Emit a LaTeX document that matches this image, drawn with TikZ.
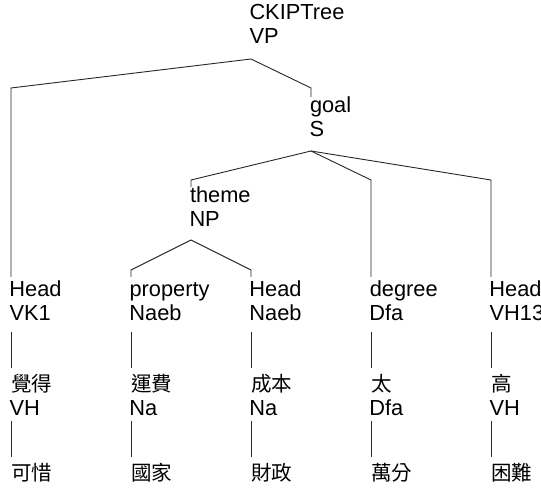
\documentclass[tikz,border=0pt]{standalone}
\usepackage{fontspec}
\setmainfont{Liberation Sans}
\newfontfamily\cjk{Noto Sans CJK TC}
\begin{document}
\begin{tikzpicture}[x=1pt,y=-1pt,
  lbl/.style={anchor=base west,inner sep=0pt,outer sep=0pt,font=\fontsize{21.8}{24}\selectfont},
  han/.style={anchor=base west,inner sep=0pt,outer sep=0pt,font=\cjk\fontsize{20.5}{24}\selectfont},
  edge/.style={draw=black!85,line width=0.9pt}]
\useasboundingbox (0,0) rectangle (541,489);
% ---- text nodes ----
\node[lbl] (rootA) at (249.5,20) {CKIPTree};
\node[lbl] (rootB) at (249.5,44) {VP};
\node[lbl] (goalA) at (310,113) {goal};
\node[lbl] (goalB) at (309.5,137) {S};
\node[lbl] (themeA) at (190,203) {theme};
\node[lbl] (themeB) at (189.5,227) {NP};
% leaf column 1
\node[lbl] (h1A) at (9.4,296) {Head};
\node[lbl] (h1B) at (9.6,320) {VK1};
\node[han] (w1A) at (11,391) {覺得};
\node[lbl] (w1B) at (9.6,415) {VH};
\node[han] (w1C) at (11,480) {可惜};
% leaf column 2
\node[lbl] (h2A) at (129.6,296) {property};
\node[lbl] (h2B) at (129.4,320) {Naeb};
\node[han] (w2A) at (131,391) {運費};
\node[lbl] (w2B) at (129.4,415) {Na};
\node[han] (w2C) at (131,480) {國家};
% leaf column 3
\node[lbl] (h3A) at (249.4,296) {Head};
\node[lbl] (h3B) at (249.4,320) {Naeb};
\node[han] (w3A) at (251,391) {成本};
\node[lbl] (w3B) at (249.4,415) {Na};
\node[han] (w3C) at (251,480) {財政};
% leaf column 4
\node[lbl] (h4A) at (369.8,296) {degree};
\node[lbl] (h4B) at (369.4,320) {Dfa};
\node[han] (w4A) at (371,391) {太};
\node[lbl] (w4B) at (369.4,415) {Dfa};
\node[han] (w4C) at (371,480) {萬分};
% leaf column 5
\node[lbl] (h5A) at (489.4,296) {Head};
\node[lbl] (h5B) at (489.6,320) {VH13};
\node[han] (w5A) at (491,391) {高};
\node[lbl] (w5B) at (489.6,415) {VH};
\node[han] (w5C) at (491,480) {困難};
% ---- connector points ----
\coordinate (vpApex) at (251,59);
\coordinate (sApex) at (311,151);
\coordinate (npApex) at (191,240);
\coordinate (c1) at (11,88);   \coordinate (t1) at (11,277);
\coordinate (cg) at (311,88);  \coordinate (tg) at (311,97);
\coordinate (ct) at (191,180); \coordinate (tt) at (191,187);
\coordinate (c4) at (371,180); \coordinate (t4) at (371,277);
\coordinate (c5) at (491,180); \coordinate (t5) at (491,277);
\coordinate (c2) at (131,270); \coordinate (t2) at (131,277);
\coordinate (c3) at (251,270); \coordinate (t3) at (251,277);
% leaf vertical links
\foreach \i/\x in {1/11,2/131,3/251,4/371,5/491}{
  \coordinate (la\i) at (\x,332); \coordinate (lb\i) at (\x,368);
  \coordinate (lc\i) at (\x,421); \coordinate (ld\i) at (\x,457);
}
% ---- connectors ----
\draw[edge] (vpApex) -- (c1) -- (t1);
\draw[edge] (vpApex) -- (cg) -- (tg);
\draw[edge] (sApex) -- (ct) -- (tt);
\draw[edge] (sApex) -- (c4) -- (t4);
\draw[edge] (sApex) -- (c5) -- (t5);
\draw[edge] (npApex) -- (c2) -- (t2);
\draw[edge] (npApex) -- (c3) -- (t3);
\foreach \i in {1,...,5}{
  \draw[edge] (la\i) -- (lb\i);
  \draw[edge] (lc\i) -- (ld\i);
}
\end{tikzpicture}
\end{document}
